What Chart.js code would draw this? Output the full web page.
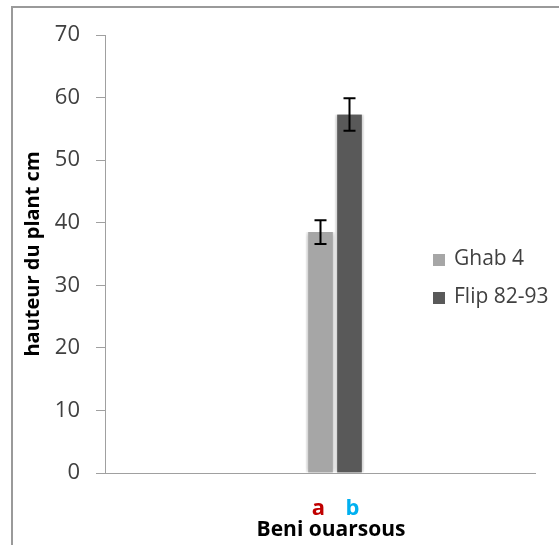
<!DOCTYPE html>
<html>
<head>
<meta charset="utf-8">
<script src="https://cdn.jsdelivr.net/npm/chart.js@4/dist/chart.umd.min.js"></script>
<style>
  html, body { margin: 0; padding: 0; background: #fff; overflow: hidden; }
  body { width: 559px; height: 545px; position: relative; }
  #frame { position: absolute; left: 11px; top: 6px; width: 700px; height: 700px; border: 2px solid #9a9a9a; }
  #wrap { position: absolute; left: 0; top: 0; width: 600px; height: 545px; }
  #legend { position: absolute; left: 433px; top: 243px; font-family: "Open Sans", sans-serif; font-size: 21px; color: #404040; }
  #legend div { height: 38px; line-height: 28px; white-space: nowrap; }
  #legend span.box { display: inline-block; width: 12px; height: 12px; margin-right: 9px; vertical-align: -1px; }
</style>
</head>
<body>
<div id="frame"></div>
<div id="wrap"><canvas id="chart" width="600" height="545"></canvas></div>
<div id="legend"></div>
<script>
const categories = ['Beni ouarsous'];
const seriesNames = ['Ghab 4', 'Flip 82-93'];
const ghabValues = [38.5];
const flipValues = [57.3];
const ghabErrors = [1.9];
const flipErrors = [2.6];
const letters = ['a', 'b'];
const letterColors = ['#c00000', '#00b0f0'];
const barColors = ['#a6a6a6', '#595959'];
const yTicks = [0, 10, 20, 30, 40, 50, 60, 70];

const legendBox = document.getElementById('legend');
seriesNames.forEach(function (name, i) {
    const row = document.createElement('div');
    row.innerHTML = '<span class="box" style="background:' + barColors[i] + '"></span>' + name;
    legendBox.appendChild(row);
});

const errors = [ghabErrors, flipErrors];

// shadow behind the bars, error bars, x axis line and the texts under the bars
const extras = {
    id: 'extras',
    beforeDatasetsDraw(chart) {
        const ctx = chart.ctx;
        ctx.save();
        ctx.shadowColor = 'rgba(0,0,0,0.35)';
        ctx.shadowBlur = 5;
    },
    afterDatasetsDraw(chart) {
        const ctx = chart.ctx;
        ctx.restore();
        const y = chart.scales.y;
        ctx.save();
        ctx.strokeStyle = '#000';
        ctx.lineWidth = 2;
        chart.data.datasets.forEach(function (ds, i) {
            chart.getDatasetMeta(i).data.forEach(function (bar, j) {
                const v = ds.data[j];
                const e = errors[i][j];
                const top = y.getPixelForValue(v + e);
                const bot = y.getPixelForValue(v - e);
                ctx.beginPath();
                ctx.moveTo(bar.x, top); ctx.lineTo(bar.x, bot);
                ctx.moveTo(bar.x - 6, top); ctx.lineTo(bar.x + 6, top);
                ctx.moveTo(bar.x - 6, bot); ctx.lineTo(bar.x + 6, bot);
                ctx.stroke();
            });
        });
        ctx.restore();
    },
    afterDraw(chart) {
        const ctx = chart.ctx;
        const area = chart.chartArea;
        const x = chart.scales.x;
        ctx.save();
        ctx.strokeStyle = '#a0a0a0';
        ctx.lineWidth = 1;
        ctx.beginPath();
        ctx.moveTo(area.left, area.bottom + 0.5);
        ctx.lineTo(area.right - 29, area.bottom + 0.5);
        ctx.stroke();

        ctx.textAlign = 'center';
        ctx.textBaseline = 'alphabetic';
        ctx.font = 'bold 22px "Open Sans", sans-serif';
        chart.data.datasets.forEach(function (ds, i) {
            const bar = chart.getDatasetMeta(i).data[0];
            ctx.fillStyle = letterColors[i];
            ctx.fillText(letters[i], bar.x + (i === 1 ? 3 : -2), area.bottom + 42);
        });
        ctx.font = 'bold 21px "Open Sans", sans-serif';
        ctx.fillStyle = '#000';
        categories.forEach(function (c, i) {
            ctx.fillText(c, x.getPixelForTick(i) - 4, area.bottom + 63);
        });
        ctx.restore();
    }
};

new Chart(document.getElementById('chart'), {
    type: 'bar',
    data: {
        labels: categories,
        datasets: [
            { label: seriesNames[0], data: ghabValues, backgroundColor: barColors[0] },
            { label: seriesNames[1], data: flipValues, backgroundColor: barColors[1] }
        ]
    },
    options: {
        responsive: false,
        animation: false,
        layout: { padding: { left: 0, right: 35, top: 35, bottom: 0 } },
        datasets: {
            bar: {
                barThickness: 29,
                borderWidth: { left: 2.5, right: 2.5, top: 0, bottom: 0 },
                borderColor: 'rgba(0,0,0,0)',
                borderSkipped: false
            }
        },
        plugins: {
            legend: { display: false },
            tooltip: { enabled: false }
        },
        scales: {
            x: {
                grid: { display: false },
                border: { display: false },
                ticks: { display: false },
                afterFit: function (scale) { scale.height = 72; }
            },
            y: {
                min: 0,
                max: 70,
                afterBuildTicks: function (scale) {
                    scale.ticks = yTicks.map(v => ({ value: v }));
                },
                grid: { drawOnChartArea: false, tickLength: 9, color: '#a0a0a0' },
                border: { color: '#a0a0a0' },
                ticks: {
                    color: '#404040',
                    padding: 16,
                    font: { family: '"Open Sans", sans-serif', size: 22 }
                },
                title: {
                    display: true,
                    text: 'hauteur du plant cm',
                    color: '#000',
                    font: { family: '"Open Sans", sans-serif', size: 20, weight: 'bold' },
                    padding: { top: 21, bottom: 0 }
                },
                afterFit: function (scale) { scale.width = 105; }
            }
        }
    },
    plugins: [extras]
});
</script>
</body>
</html>
